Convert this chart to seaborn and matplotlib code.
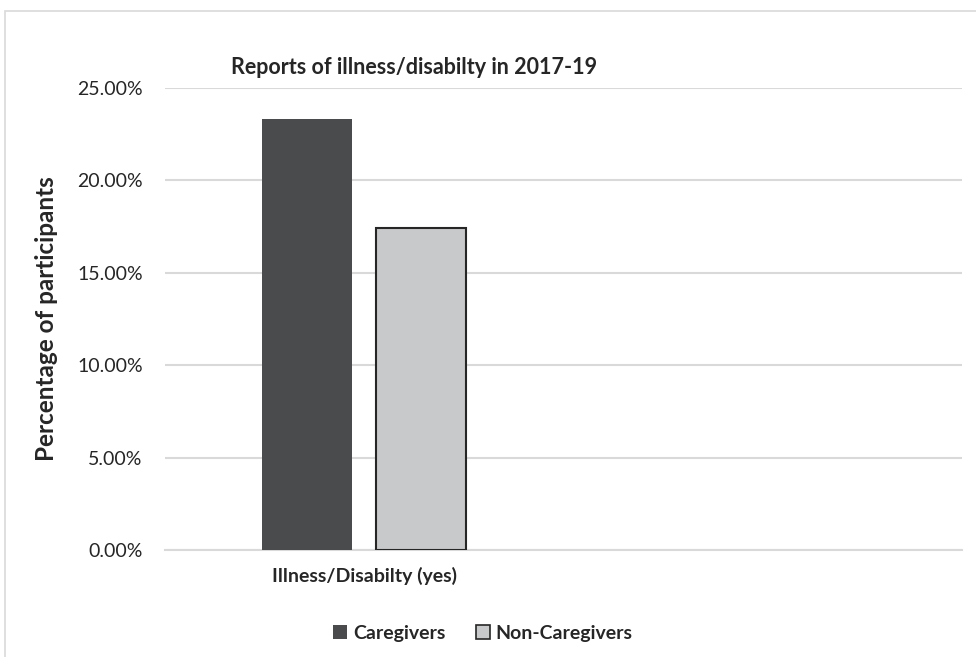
import matplotlib
matplotlib.use('Agg')
import matplotlib.pyplot as plt
import pandas as pd
import seaborn as sns
from matplotlib.patches import Rectangle
from matplotlib.ticker import PercentFormatter

# Data
categories = ['Illness/Disabilty (yes)', '']
groups = ['Caregivers', 'Non-Caregivers']
values = [0.233, 0.174]
colors = ['#4a4b4d', '#c8c9cb']
y_ticks = [0.0, 0.05, 0.10, 0.15, 0.20, 0.25]

df = pd.DataFrame({
    'category': [categories[0]] * len(groups),
    'group': groups,
    'value': values,
})

sns.set_style('white')
plt.rcParams['font.family'] = ['Lato', 'DejaVu Sans']

fig = plt.figure(figsize=(9.76, 6.57), dpi=100)
ax = fig.add_axes([165 / 976, 1 - 550 / 657, (962 - 165) / 976, (550 - 88) / 657])

# light outer chart border
fig.patches.append(Rectangle((5 / 976, -0.1), 1.2, 1 - 11 / 657 + 0.1,
                             transform=fig.transFigure, fill=False,
                             edgecolor='#d9d9d9', linewidth=1.2, zorder=0))

sns.barplot(data=df, x='category', y='value', hue='group', order=categories,
            hue_order=groups, palette=dict(zip(groups, colors)),
            width=0.572, gap=0.21, ax=ax, legend=False, saturation=1)

for patch in ax.patches:
    fc = patch.get_facecolor()
    if fc[0] > 0.5:
        patch.set_edgecolor('#262626')
        patch.set_linewidth(1.5)
    else:
        patch.set_edgecolor('none')
    patch.set_zorder(3)

ax.set_ylim(0, 0.25)
ax.set_yticks(y_ticks)
ax.yaxis.set_major_formatter(PercentFormatter(1.0, decimals=2))
ax.grid(axis='y', color='#d9d9d9', linewidth=1.5, zorder=0)
ax.set_axisbelow(True)
for s in ['top', 'right', 'left']:
    ax.spines[s].set_visible(False)
ax.spines['bottom'].set_color('#d9d9d9')
ax.spines['bottom'].set_linewidth(1.5)
ax.tick_params(axis='both', length=0, labelsize=14, colors='#262626')
ax.tick_params(axis='y', pad=16)
ax.tick_params(axis='x', pad=12)
for lbl in ax.get_xticklabels():
    lbl.set_fontweight('bold')

ax.set_xlabel('')
ax.set_ylabel('Percentage of participants', fontsize=17.5, fontweight='bold',
              color='#262626', labelpad=14)
fig.text(414 / 976, 1 - 68 / 657, 'Reports of illness/disabilty in 2017-19',
         ha='center', va='center', fontsize=15.5, fontweight='bold', color='#262626')

handles = [Rectangle((0, 0), 1, 1, facecolor=colors[0], edgecolor='none'),
           Rectangle((0, 0), 1, 1, facecolor=colors[1], edgecolor='#262626', linewidth=1.2)]
leg = fig.legend(handles, groups, loc='center', bbox_to_anchor=(483 / 976, 1 - 633 / 657),
                 ncol=2, frameon=False, handlelength=0.7, handleheight=0.7,
                 handletextpad=0.3, columnspacing=1.6, prop={'size': 14, 'weight': 'bold'})
for t in leg.get_texts():
    t.set_color('#262626')

fig.savefig('out.png', dpi=100)
